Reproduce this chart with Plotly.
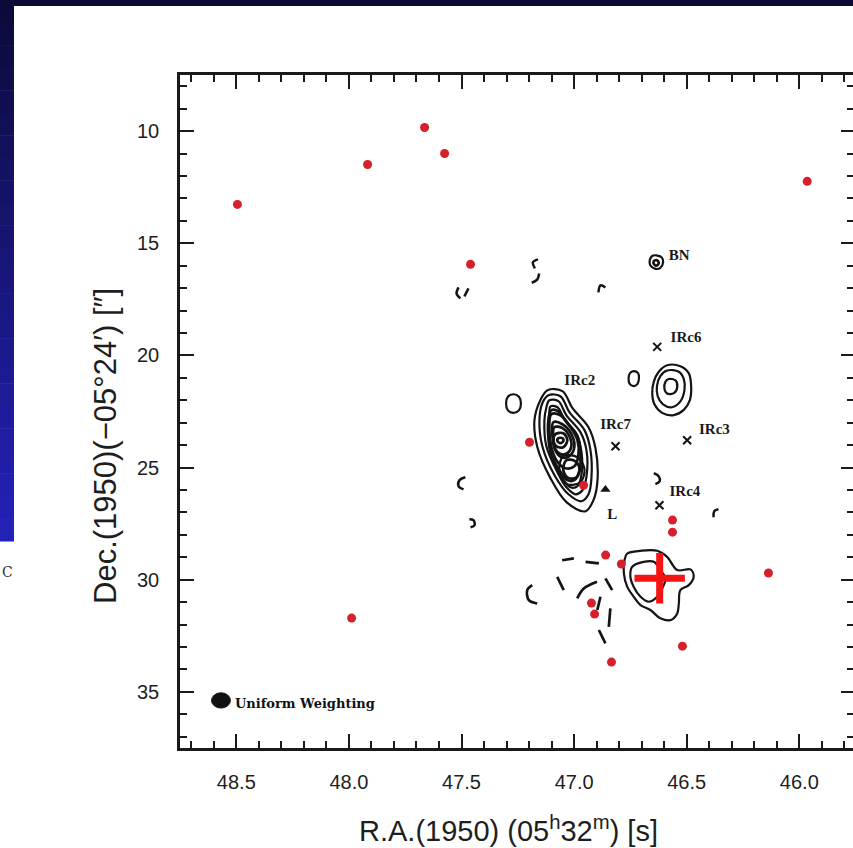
import plotly.graph_objects as go

# ---------------- data (RA in seconds of time, Dec offset in arcsec) ----------------
dot_ra = [48.495, 47.988, 47.917, 47.664, 47.575, 47.460, 47.198, 46.958, 46.860,
          46.790, 46.923, 46.909, 46.834, 46.519, 46.563, 46.563, 46.137, 45.965]
dot_dec = [13.27, 31.71, 11.49, 9.84, 11.00, 15.94, 23.87, 25.79, 28.90,
           29.30, 31.04, 31.53, 33.67, 32.96, 27.34, 27.88, 29.70, 12.24]

cross_ra = [46.620]
cross_dec = [29.93]

ir_names = ["IRc6", "IRc7", "IRc3", "IRc4"]
ir_ra = [46.631, 46.816, 46.498, 46.621]
ir_dec = [19.62, 24.05, 23.78, 26.68]

tri_ra = [46.861]
tri_dec = [25.98]

label_text = ["BN", "IRc6", "IRc2", "IRc7", "IRc3", "IRc4", "L"]
label_ra = [46.533, 46.503, 46.975, 46.816, 46.377, 46.508, 46.831]
label_dec = [15.58, 19.22, 21.15, 23.10, 23.35, 26.12, 27.12]

x_ticks = [48.5, 48.0, 47.5, 47.0, 46.5, 46.0]
y_ticks = [10, 15, 20, 25, 30, 35]

beam_ra, beam_dec = 48.568, 35.38
beam_w, beam_h = 0.084, 0.68

# positive contours (closed)
irc2_1 = ([47.118, 47.052, 47.007, 46.936, 46.905, 46.896, 46.914, 46.950, 47.034, 47.105, 47.163, 47.176, 47.150],
          [21.55, 21.59, 22.35, 23.20, 24.14, 25.56, 26.45, 26.95, 26.54, 25.47, 24.09, 22.89, 22.00])
irc2_2 = ([47.114, 47.061, 47.021, 46.954, 46.928, 46.923, 46.936, 46.967, 47.025, 47.087, 47.141, 47.154, 47.141],
          [21.78, 21.82, 22.53, 23.33, 24.18, 25.47, 26.19, 26.50, 26.19, 25.34, 24.05, 22.89, 22.13])
irc2_3 = ([47.110, 47.070, 47.034, 46.972, 46.945, 46.945, 46.963, 46.994, 47.034, 47.074, 47.123, 47.132, 47.123],
          [22.00, 22.04, 22.67, 23.42, 24.23, 25.39, 26.01, 26.19, 25.88, 25.21, 24.05, 22.93, 22.31])
irc2_4 = ([47.105, 47.074, 47.043, 46.989, 46.967, 46.967, 46.985, 47.016, 47.052, 47.092, 47.110, 47.114, 47.110],
          [22.27, 22.31, 22.84, 23.51, 24.32, 25.30, 25.83, 25.88, 25.47, 24.76, 23.96, 23.11, 22.53])
irc2_4b = ([47.101, 47.070, 47.034, 46.985, 46.972, 46.976, 46.999, 47.030, 47.065, 47.101, 47.114, 47.114],
           [22.44, 22.49, 22.98, 23.60, 24.32, 25.12, 25.56, 25.56, 25.12, 24.45, 23.69, 22.89])
irc2_5 = ([47.101, 47.061, 47.016, 46.985, 46.981, 46.999, 47.039, 47.079, 47.101, 47.110],
          [22.62, 22.67, 23.20, 23.78, 24.45, 24.94, 25.03, 24.67, 24.09, 23.33])
irc2_6 = ([47.092, 47.052, 47.012, 46.999, 47.021, 47.056, 47.083, 47.096],
          [22.98, 23.07, 23.51, 24.09, 24.49, 24.54, 24.23, 23.60])
irc2_6b = ([47.088, 47.052, 47.021, 47.012, 47.030, 47.061, 47.083, 47.092],
           [23.20, 23.24, 23.60, 24.05, 24.36, 24.40, 24.18, 23.69])
irc2_7 = ([47.083, 47.048, 47.030, 47.048, 47.079, 47.092],
          [23.51, 23.47, 23.78, 24.09, 24.05, 23.78])
irc2_8 = ([47.070, 47.052, 47.048, 47.061, 47.074],
          [23.69, 23.69, 23.82, 23.91, 23.82])
irc2_h1 = ([47.034, 46.994, 46.976, 46.989, 47.025, 47.048],
           [24.67, 24.72, 25.07, 25.43, 25.47, 25.12])
irc2_h2 = ([47.048, 46.985, 46.954, 46.972, 47.030, 47.065],
           [24.49, 24.54, 25.07, 25.65, 25.74, 25.16])
irc3_1 = ([46.587, 46.528, 46.491, 46.480, 46.486, 46.513, 46.557, 46.609, 46.643, 46.653, 46.646, 46.624],
          [20.44, 20.48, 20.79, 21.42, 21.99, 22.43, 22.66, 22.56, 22.18, 21.68, 21.17, 20.73])
irc3_2 = ([46.587, 46.535, 46.513, 46.510, 46.528, 46.565, 46.605, 46.629, 46.632, 46.617],
          [20.67, 20.73, 21.05, 21.55, 22.05, 22.31, 22.18, 21.81, 21.36, 20.92])
irc3_3 = ([46.580, 46.550, 46.542, 46.557, 46.587, 46.599, 46.594],
          [21.05, 21.11, 21.42, 21.68, 21.70, 21.48, 21.17])
bn_1 = ([46.635, 46.611, 46.605, 46.617, 46.639, 46.661, 46.663, 46.652],
        [15.54, 15.63, 15.85, 16.10, 16.14, 15.99, 15.72, 15.56])
bn_2 = ([46.639, 46.626, 46.626, 46.639, 46.648],
        [15.76, 15.81, 15.94, 15.99, 15.85])
ring_w = ([47.269, 47.245, 47.236, 47.245, 47.269, 47.294, 47.302, 47.294],
          [21.73, 21.84, 22.13, 22.45, 22.56, 22.45, 22.13, 21.84])
ring_e = ([46.736, 46.716, 46.712, 46.719, 46.736, 46.754, 46.758, 46.752],
          [20.70, 20.79, 21.01, 21.28, 21.37, 21.26, 21.01, 20.79])
src_1 = ([46.764, 46.705, 46.631, 46.587, 46.542, 46.483, 46.469, 46.491, 46.528, 46.535,
          46.542, 46.572, 46.617, 46.661, 46.705, 46.735, 46.764, 46.779, 46.776],
         [28.83, 28.71, 28.71, 28.98, 29.57, 29.54, 29.87, 30.24, 30.46, 31.06,
          31.50, 31.80, 31.72, 31.35, 31.13, 30.76, 30.32, 29.72, 29.13])
src_2 = ([46.742, 46.691, 46.646, 46.617, 46.594, 46.609, 46.631, 46.668, 46.705, 46.735, 46.750],
         [29.42, 29.20, 29.20, 29.57, 29.94, 30.39, 30.76, 30.98, 30.76, 30.32, 29.87])
outer_contours = [irc2_1, irc2_2, irc2_3, irc2_4, irc2_h2, irc3_1, irc3_2, irc3_3,
                  bn_1, ring_w, ring_e, src_1, src_2]
core_contours = [irc2_4b, irc2_5, irc2_6, irc2_6b, irc2_7, irc2_8, irc2_h1, bn_2]

# open contour fragments (positive, solid)
arcs = [
    ([47.160, 47.183, 47.174], [15.72, 15.85, 16.12]),
    ([47.155, 47.164, 47.188], [16.35, 16.62, 16.76]),
    ([47.513, 47.522, 47.505], [16.97, 17.24, 17.46]),
    ([47.469, 47.487], [17.01, 17.37]),
    ([46.892, 46.883, 46.861], [17.19, 16.88, 16.97]),
    ([46.646, 46.624, 46.620, 46.639], [25.25, 25.39, 25.61, 25.74]),
    ([46.381, 46.377, 46.359], [27.21, 26.94, 26.85]),
    ([47.483, 47.509, 47.513, 47.491], [25.43, 25.56, 25.83, 25.97]),
    ([47.465, 47.447, 47.442, 47.460], [27.30, 27.34, 27.57, 27.66]),
]

# negative contour dashes
neg_dashes = [
    ([47.053, 47.001], [29.13, 29.05]),
    ([46.949, 46.890], [29.20, 29.27]),
    ([47.186, 47.208, 47.201, 47.164], [30.24, 30.46, 30.91, 31.06]),
    ([47.075, 47.046], [29.87, 30.46]),
    ([46.986, 46.957, 46.898], [30.83, 30.39, 30.09]),
    ([46.861, 46.831], [29.94, 30.46]),
    ([46.883, 46.897], [30.76, 31.35]),
    ([46.839, 46.846], [31.28, 32.10]),
    ([46.890, 46.861], [32.24, 32.84]),
]

# ---------------- figure ----------------
W, H = 853, 848
L, T, PW, PH = 180, 75, 673, 673
B = H - T - PH
x_left = 48.75
x_right = x_left - PW / 225.2

fig = go.Figure()
ink = "#141414"

def add_closed(c, width):
    ra, dec = c
    fig.add_trace(go.Scatter(x=list(ra) + [ra[0]], y=list(dec) + [dec[0]], mode="lines",
                             line=dict(color=ink, width=width, shape="spline", smoothing=1.0),
                             hoverinfo="skip", showlegend=False))

for c in outer_contours:
    add_closed(c, 2.2)
for c in core_contours:
    add_closed(c, 2.7)
for ra, dec in arcs:
    fig.add_trace(go.Scatter(x=ra, y=dec, mode="lines",
                             line=dict(color=ink, width=2.5, shape="spline"),
                             hoverinfo="skip", showlegend=False))
for ra, dec in neg_dashes:
    fig.add_trace(go.Scatter(x=ra, y=dec, mode="lines",
                             line=dict(color=ink, width=2.7, shape="spline"),
                             hoverinfo="skip", showlegend=False))

fig.add_trace(go.Scatter(x=ir_ra, y=ir_dec, mode="markers",
                         marker=dict(symbol="x-thin", size=8, line=dict(color=ink, width=2)),
                         showlegend=False))
fig.add_trace(go.Scatter(x=tri_ra, y=tri_dec, mode="markers",
                         marker=dict(symbol="triangle-up", size=9, color=ink),
                         showlegend=False))
fig.add_trace(go.Scatter(x=label_ra, y=label_dec, mode="text", text=label_text,
                         textfont=dict(family="Liberation Serif", size=15, color="#1a1a1a", weight="bold"),
                         showlegend=False))
fig.add_trace(go.Scatter(x=dot_ra, y=dot_dec, mode="markers",
                         marker=dict(size=9, color="#d6202b"), showlegend=False))
fig.add_trace(go.Scatter(x=cross_ra, y=cross_dec, mode="markers",
                         marker=dict(symbol="cross-thin", size=36, line=dict(color="#f41414", width=7)),
                         showlegend=False))
# dummy trace for right-hand tick axis
fig.add_trace(go.Scatter(x=[None], y=[None], yaxis="y2", showlegend=False))

# beam
fig.add_shape(type="circle", xref="x", yref="y",
              x0=beam_ra + beam_w / 2, x1=beam_ra - beam_w / 2,
              y0=beam_dec - beam_h / 2, y1=beam_dec + beam_h / 2,
              fillcolor="#111", line=dict(color="#111", width=1))
fig.add_annotation(x=beam_ra - beam_w / 2 - 0.012, y=beam_dec + 0.12, xref="x", yref="y",
                   text="Uniform Weighting", showarrow=False, xanchor="left", yanchor="middle",
                   font=dict(family="DejaVu Serif", size=13, color="#111", weight="bold"))

tickfont = dict(family="Liberation Sans, Arial", size=20, color="#1e1e1e")
common = dict(showline=True, linecolor="#1a1a1a", linewidth=2.5, ticks="inside",
              tickcolor="#1a1a1a", tickwidth=2.2, showgrid=False, zeroline=False)

fig.update_layout(
    width=W, height=H,
    margin=dict(l=L, r=0, t=T, b=B, pad=0),
    paper_bgcolor="white", plot_bgcolor="white",
    xaxis=dict(range=[x_left, x_right], tickvals=x_ticks,
               ticktext=[f"{v:.1f}" for v in x_ticks], ticklen=14, mirror="ticks",
               minor=dict(dtick=0.1, tick0=48.5, ticks="inside", ticklen=7, tickwidth=2.2, tickcolor="#1a1a1a"),
               tickfont=tickfont, ticklabelstandoff=14, **common),
    yaxis=dict(range=[37.5, 7.5], tickvals=y_ticks, ticklen=14,
               minor=dict(dtick=1, tick0=10, ticks="inside", ticklen=7, tickwidth=2.2, tickcolor="#1a1a1a"),
               tickfont=tickfont, ticklabelstandoff=14, **common),
    yaxis2=dict(range=[37.5, 7.5], overlaying="y", side="right", anchor="x",
                tickvals=y_ticks, ticklen=12, ticks="inside", tickcolor="#1a1a1a", tickwidth=2.2,
                showticklabels=False, showline=False, showgrid=False, zeroline=False,
                minor=dict(dtick=1, tick0=10, ticks="inside", ticklen=6, tickwidth=2.2, tickcolor="#1a1a1a")),
)

# axis titles
fig.add_annotation(xref="paper", yref="paper", x=(508 - L) / PW, y=-(829 - (T + PH)) / PH,
                   text="R.A.(1950) (05<sup>h</sup>32<sup>m</sup>) [s]", showarrow=False,
                   xanchor="center", yanchor="middle",
                   font=dict(family="Liberation Sans, Arial", size=29, color="#1e1e1e"))
fig.add_annotation(xref="paper", yref="paper", x=(105 - L) / PW, y=((T + PH) - 446) / PH,
                   text="Dec.(1950)(\u221205\u00b024\u2032) [\u2033]", showarrow=False, textangle=-90,
                   xanchor="center", yanchor="middle",
                   font=dict(family="Liberation Sans, Arial", size=31, color="#1e1e1e"))

# slide background pieces (outside the plot)
def px_x(px):
    return (px - L) / PW

def px_y(py):
    return ((T + PH) - py) / PH

n = 24
top_c, bot_c = (11, 10, 56), (36, 34, 186)
strip_bottom = 541
for i in range(n):
    f = (i + 0.5) / n
    col = tuple(int(round(a + (b - a) * f)) for a, b in zip(top_c, bot_c))
    y0 = strip_bottom * i / n
    y1 = strip_bottom * (i + 1) / n + 0.5
    fig.add_shape(type="rect", xref="paper", yref="paper", x0=px_x(0), x1=px_x(14),
                  y0=px_y(y1), y1=px_y(y0), fillcolor=f"rgb{col}", line=dict(width=0), layer="below")
fig.add_shape(type="rect", xref="paper", yref="paper", x0=px_x(0), x1=px_x(853),
              y0=px_y(6), y1=px_y(0), fillcolor="rgb(11,10,54)", line=dict(width=0), layer="below")
fig.add_annotation(xref="paper", yref="paper", x=px_x(0), y=px_y(572), text="C",
                   showarrow=False, xanchor="left", yanchor="middle",
                   font=dict(family="DejaVu Serif", size=14, color="#333"))

fig.write_html("out.html")
